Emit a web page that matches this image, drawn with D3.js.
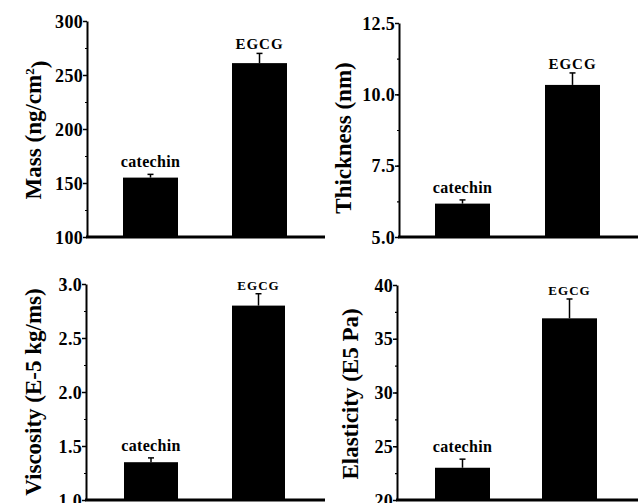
<!DOCTYPE html>
<html>
<head>
<meta charset="utf-8">
<script src="https://cdn.jsdelivr.net/npm/d3@7"></script>
<style>
  body { margin: 0; background: #fff; }
  svg { display: block; }
  text { font-family: "Liberation Serif", "Times New Roman", serif; font-weight: bold; fill: #000; }
  .axis path, .axis line { stroke: #000; }
</style>
</head>
<body>
<div id="chart"></div>
<script>
// data
var groups = ["catechin", "EGCG"];
var massValues = [155, 261];
var massErrors = [3, 9];
var thicknessValues = [6.17, 10.33];
var thicknessErrors = [0.13, 0.42];
var viscosityValues = [1.35, 2.80];
var viscosityErrors = [0.04, 0.11];
var elasticityValues = [23.0, 36.9];
var elasticityErrors = [0.8, 1.8];

var massTicks = ["100", "150", "200", "250", "300"];
var thicknessTicks = ["5.0", "7.5", "10.0", "12.5"];
var viscosityTicks = ["1.0", "1.5", "2.0", "2.5", "3.0"];
var elasticityTicks = ["20", "25", "30", "35", "40"];

// init svg
var width = 638, height = 503;
var svg = d3.select("#chart").append("svg")
    .attr("width", width)
    .attr("height", height);

// panels
var panels = [
    { title: ["Mass (ng/cm", "2", ")"], values: massValues, errors: massErrors, ticks: massTicks,
      domain: [100, 300], minorStep: 25, left: 87, right: 325, top: 21, bottom: 237,
      bars: [[123, 178], [232, 287]], titleX: 33, titleY: 130, labelSizes: [16, 15] },
    { title: ["Thickness (nm)"], values: thicknessValues, errors: thicknessErrors, ticks: thicknessTicks,
      domain: [5, 12.5], minorStep: 1.25, left: 399, right: 638, top: 23, bottom: 237,
      bars: [[435, 490], [545, 600]], titleX: 343, titleY: 138, labelSizes: [16, 15] },
    { title: ["Viscosity (E-5 kg/ms)"], values: viscosityValues, errors: viscosityErrors, ticks: viscosityTicks,
      domain: [1, 3], minorStep: 0.25, left: 86, right: 325, top: 284, bottom: 500,
      bars: [[124, 178], [232, 285]], titleX: 33, titleY: 392, labelSizes: [16, 13] },
    { title: ["Elasticity (E5 Pa)"], values: elasticityValues, errors: elasticityErrors, ticks: elasticityTicks,
      domain: [20, 40], minorStep: 2.5, left: 397, right: 638, top: 285, bottom: 500,
      bars: [[435, 490], [542, 597]], titleX: 350, titleY: 394, labelSizes: [16, 13] }
];

panels.forEach(drawPanel);

function drawPanel(p) {

    var g = svg.append("g");

    // scales
    var y = d3.scaleLinear()
        .domain(p.domain)
        .range([p.bottom, p.top]);

    var x = d3.scaleOrdinal()
        .domain(groups)
        .range(p.bars);

    // minor ticks
    var minor = d3.range(p.domain[0], p.domain[1] + 1e-9, p.minorStep);
    g.append("g")
        .attr("class", "axis")
        .attr("transform", "translate(" + p.left + ",0)")
        .call(d3.axisLeft(y).tickValues(minor).tickSize(2).tickFormat(""))
        .call(a => a.select(".domain").remove())
        .selectAll("line").attr("stroke-width", 1.2);

    // major ticks
    var yAxis = g.append("g")
        .attr("class", "axis")
        .attr("transform", "translate(" + p.left + ",0)")
        .call(d3.axisLeft(y)
            .tickValues(p.ticks.map(Number))
            .tickSize(4)
            .tickSizeOuter(0)
            .tickPadding(0)
            .tickFormat((d, i) => p.ticks[i]));

    yAxis.select(".domain").attr("stroke-width", 2);
    yAxis.selectAll(".tick line").attr("stroke-width", 1.5);
    yAxis.selectAll("text")
        .style("font-family", "Liberation Serif")
        .style("font-weight", "bold")
        .style("font-size", "18px")
        .style("letter-spacing", "0.3px")
        .attr("dy", "0.34em")
        .attr("fill", "#000");

    // x axis line
    g.append("line")
        .attr("x1", p.left - 1)
        .attr("x2", p.right)
        .attr("y1", p.bottom)
        .attr("y2", p.bottom)
        .attr("stroke", "#000")
        .attr("stroke-width", 3);

    // bars
    groups.forEach(function (name, i) {

        var bx = x(name);
        var v = p.values[i];
        var top = y(v + p.errors[i]);
        var cx = (bx[0] + bx[1]) / 2;

        g.append("rect")
            .attr("x", bx[0])
            .attr("y", y(v))
            .attr("width", bx[1] - bx[0])
            .attr("height", p.bottom - y(v))
            .attr("fill", "#000");

        // error bar
        g.append("line")
            .attr("x1", cx).attr("x2", cx)
            .attr("y1", y(v)).attr("y2", top)
            .attr("stroke", "#000")
            .attr("stroke-width", 1.5);

        g.append("line")
            .attr("x1", cx - 3).attr("x2", cx + 3)
            .attr("y1", top).attr("y2", top)
            .attr("stroke", "#000")
            .attr("stroke-width", 1.5);

        // label
        g.append("text")
            .attr("x", cx)
            .attr("y", top - (i == 0 ? 7 : 4))
            .attr("text-anchor", "middle")
            .style("font-size", p.labelSizes[i] + "px")
            .style("letter-spacing", i == 0 ? "0.3px" : "1px")
            .text(name);
    });

    // y title
    var title = g.append("text")
        .attr("transform", "translate(" + p.titleX + "," + p.titleY + ") rotate(-90)")
        .attr("text-anchor", "middle")
        .attr("dy", "0.35em")
        .style("font-size", "23px");

    title.append("tspan").text(p.title[0]);
    if (p.title.length > 1) {
        title.append("tspan")
            .attr("dy", "-0.55em")
            .style("font-size", "13px")
            .text(p.title[1]);
        title.append("tspan")
            .attr("dy", "0.55em")
            .text(p.title[2]);
    }
}
</script>
</body>
</html>
